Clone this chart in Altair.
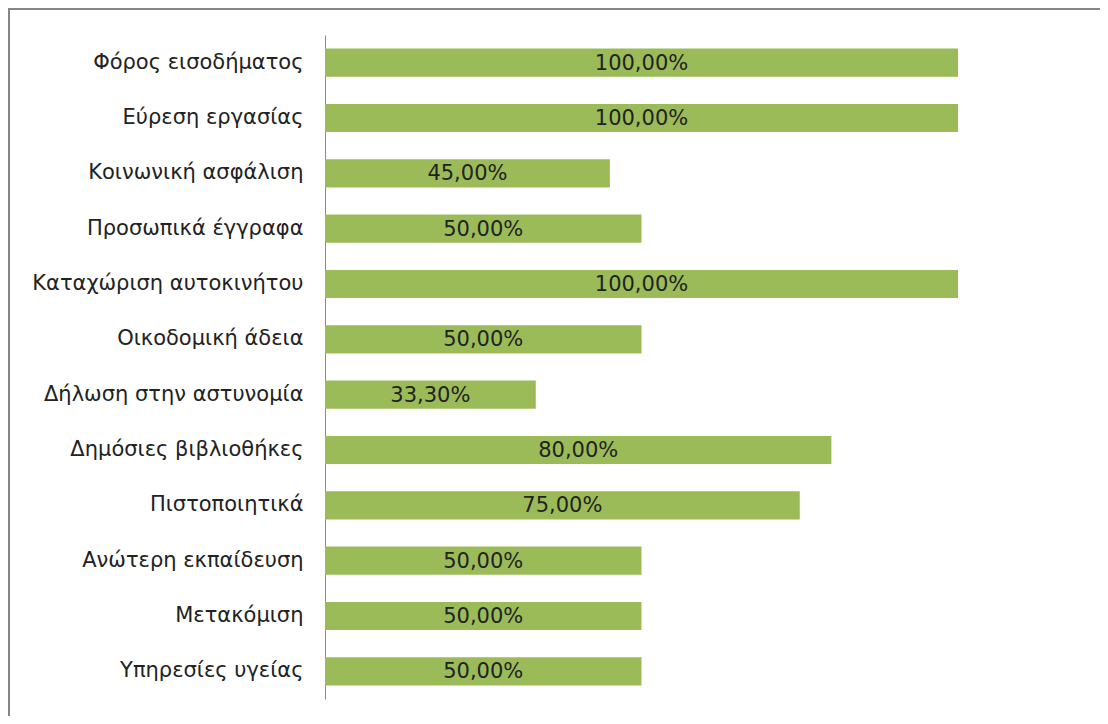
import altair as alt
import pandas as pd

categories = [
    "Φόρος εισοδήματος",
    "Εύρεση εργασίας",
    "Κοινωνική ασφάλιση",
    "Προσωπικά έγγραφα",
    "Καταχώριση αυτοκινήτου",
    "Οικοδομική άδεια",
    "Δήλωση στην αστυνομία",
    "Δημόσιες βιβλιοθήκες",
    "Πιστοποιητικά",
    "Ανώτερη εκπαίδευση",
    "Μετακόμιση",
    "Υπηρεσίες υγείας",
]
values = [100.0, 100.0, 45.0, 50.0, 100.0, 50.0, 33.3, 80.0, 75.0, 50.0, 50.0, 50.0]
labels = [f"{v:.2f}".replace(".", ",") + "%" for v in values]

df = pd.DataFrame({"cat": categories, "value": values, "label": labels})

FONT = "DejaVu Sans"
W, H = 633, 664

base = alt.Chart(df)

y_enc = alt.Y(
    "cat:N",
    sort=categories,
    title=None,
    scale=alt.Scale(paddingInner=0.49, paddingOuter=0.245),
    axis=alt.Axis(
        domainColor="#8a8a8a",
        domainWidth=1,
        ticks=False,
        labelPadding=22,
        labelFont=FONT,
        labelFontSize=21,
        labelColor="#222222",
        labelLimit=0,
    ),
)

bars = base.mark_bar(color="#9BBB59").encode(
    x=alt.X("value:Q", scale=alt.Scale(domain=[0, 100]), axis=None),
    y=y_enc,
)

text = base.transform_calculate(mid="datum.value / 2").mark_text(
    font=FONT, fontSize=21, color="#222222", align="center", baseline="middle", dy=1
).encode(
    x=alt.X("mid:Q"),
    y=alt.Y("cat:N", sort=categories),
    text="label:N",
)

frame_top = alt.Chart(pd.DataFrame({"a": [0]})).mark_rule(color="#858585", strokeWidth=2).encode(
    x=alt.value(-316), x2=alt.value(775), y=alt.value(-26)
)
frame_left = alt.Chart(pd.DataFrame({"a": [0]})).mark_rule(color="#858585", strokeWidth=2).encode(
    x=alt.value(-316), y=alt.value(-27), y2=alt.value(681)
)

chart = (
    alt.layer(bars, text, frame_top, frame_left)
    .properties(
        width=W,
        height=H,
        background="white",
        autosize=alt.AutoSizeParams(type="none"),
        padding={"left": 317, "top": 27, "right": 142, "bottom": 17},
    )
    .configure_view(strokeWidth=0, stroke=None)
)

chart.save("out.html", embed_options={"renderer": "svg", "actions": False})
